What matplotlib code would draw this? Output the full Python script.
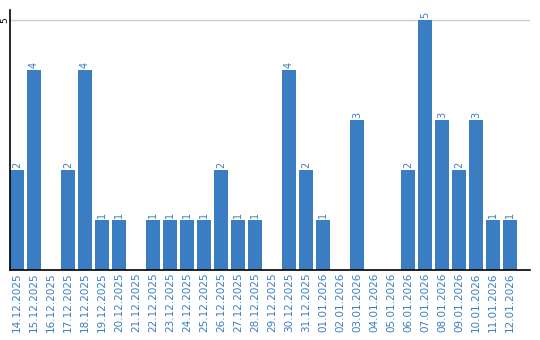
import matplotlib
matplotlib.use("Agg")
import matplotlib.pyplot as plt

dates = ["14.12.2025", "15.12.2025", "16.12.2025", "17.12.2025", "18.12.2025",
         "19.12.2025", "20.12.2025", "21.12.2025", "22.12.2025", "23.12.2025",
         "24.12.2025", "25.12.2025", "26.12.2025", "27.12.2025", "28.12.2025",
         "29.12.2025", "30.12.2025", "31.12.2025", "01.01.2026", "02.01.2026",
         "03.01.2026", "04.01.2026", "05.01.2026", "06.01.2026", "07.01.2026",
         "08.01.2026", "09.01.2026", "10.01.2026", "11.01.2026", "12.01.2026"]
counts = [2, 4, 0, 2, 4, 1, 1, 0, 1, 1, 1, 1, 2, 1, 1,
          0, 4, 2, 1, 0, 3, 0, 0, 2, 5, 3, 2, 3, 1, 1]

blue = "#3a7dc2"
fig = plt.figure(figsize=(5.4, 3.4), dpi=100)
ax = fig.add_axes([10 / 540, 70 / 340, 520 / 540, 260 / 340])

w = 14 / 17
xs = list(range(len(dates)))
ax.bar(xs, counts, width=w, align="edge", color=blue, zorder=2)

for x, v in zip(xs, counts):
    if v > 0:
        ax.text(x + w / 2, v + 0.04, str(v), rotation=90, ha="center", va="bottom",
                color=blue, fontsize=7)

ax.set_xlim(0, 520 / 17)
ax.set_ylim(0, 5.2)
ax.set_xticks([x + w / 2 for x in xs])
ax.set_xticklabels(dates, rotation=90, color=blue, fontsize=7.5)
ax.set_yticks([5])
ax.set_yticklabels(["5"], rotation=90, fontsize=6.5, va="center")
ax.tick_params(axis="x", length=0, pad=2)
ax.tick_params(axis="y", length=0, pad=0.5)
ax.axhline(5, color="#cccccc", lw=1, zorder=1)

for s in ["top", "right"]:
    ax.spines[s].set_visible(False)
ax.spines["left"].set_color("black")
ax.spines["bottom"].set_color("black")
ax.spines["left"].set_linewidth(1.2)
ax.spines["bottom"].set_linewidth(1.2)

fig.savefig("out.png", dpi=100)
